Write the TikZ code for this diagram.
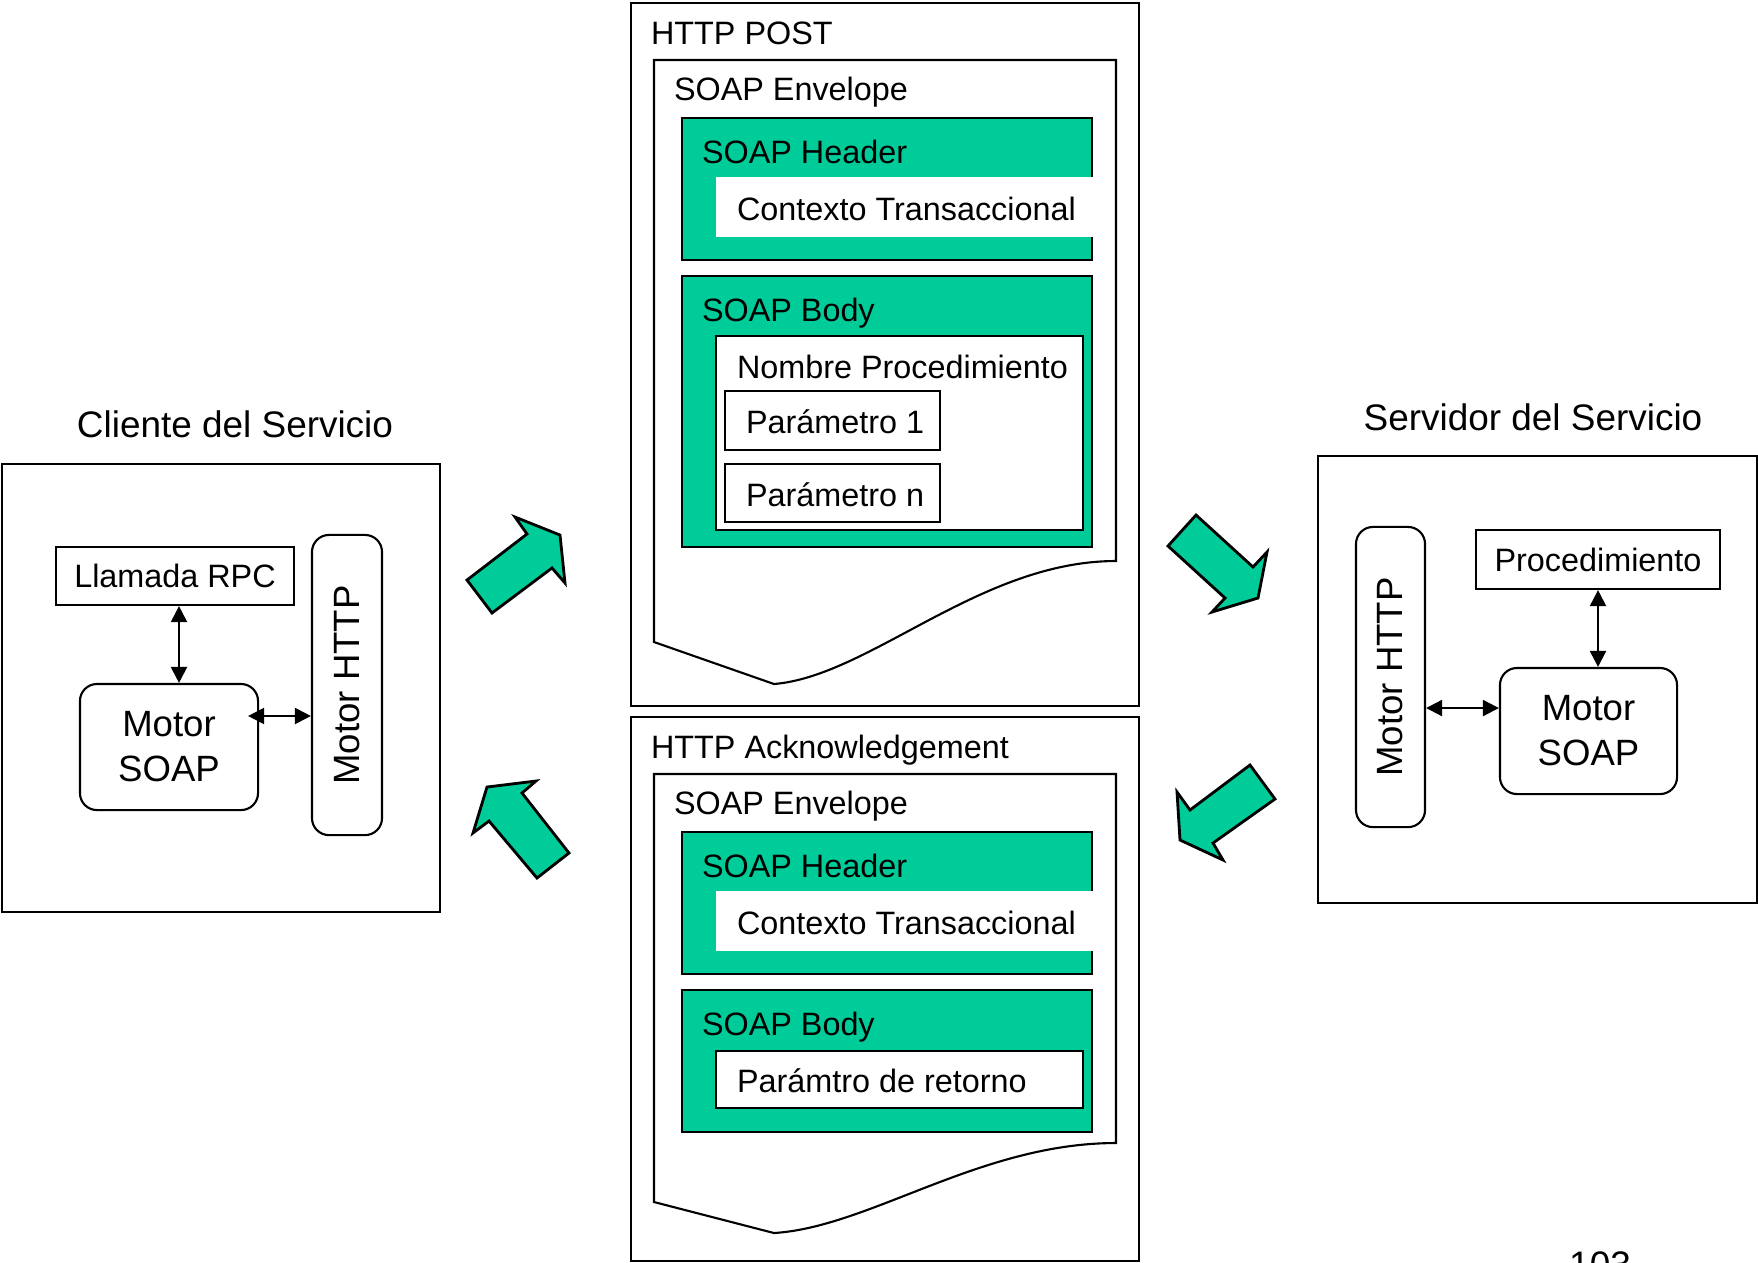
\documentclass[tikz,border=0pt]{standalone}
\usepackage{fontspec}
\setmainfont{Liberation Sans}
\usetikzlibrary{arrows.meta}

\definecolor{soapgreen}{RGB}{0,204,153}
\newcommand{\txtnormal}{\fontsize{9.2}{11}\selectfont}
\newcommand{\txttitulo}{\fontsize{10.5}{12.5}\selectfont}
\newcommand{\txtmotor}{\fontsize{10.4}{12.8}\selectfont}

\tikzset{
  lbl/.style={anchor=base west, inner sep=0pt, font=\txtnormal},
  titulo/.style={anchor=base, inner sep=0pt, font=\txttitulo},
  caja/.style={draw, inner sep=0pt, font=\txtnormal, text height=6.6pt, text depth=0pt},
  marco/.style={draw, inner sep=0pt},
  motor/.style={draw, rounded corners=0.17cm, inner sep=0pt, font=\txtmotor, align=center},
  flecha/.style={{Triangle[length=0.16cm,width=0.16cm]}-{Triangle[length=0.16cm,width=0.16cm]}},
  bloque/.style={draw, fill=soapgreen, line width=0.8pt, line join=miter}
}

\begin{document}
\begin{tikzpicture}[x=0.01cm, y=-0.01cm, line width=0.6pt]

\useasboundingbox (0,0) rectangle (1758,1262);

% cliente
\node[titulo] (cliTitulo) at (235,437) {Cliente del Servicio};
\node[marco, minimum width=4.38cm, minimum height=4.48cm] (cliente) at (221,688) {};
\node[caja, minimum width=2.38cm, minimum height=0.58cm] (llamada) at (175,576) {Llamada RPC};
\node[motor, minimum width=1.78cm, minimum height=1.26cm] (soapC) at (169,747) {Motor\\SOAP};
\node[motor, minimum width=0.70cm, minimum height=3.00cm] (httpC) at (347,685) {\rotatebox{90}{Motor HTTP}};

\draw[flecha] ([xshift=0.04cm]llamada.south) -- ([xshift=0.04cm]llamada.south |- soapC.north);
\draw[flecha] ([xshift=-0.11cm,yshift=0.31cm]soapC.east) -- ([yshift=0.31cm]soapC.east -| httpC.west);

% servidor
\node[titulo] (srvTitulo) at (1533,430) {Servidor del Servicio};
\node[marco, minimum width=4.39cm, minimum height=4.47cm] (servidor) at (1537.5,679.5) {};
\node[motor, minimum width=0.69cm, minimum height=3.00cm] (httpS) at (1390.5,677) {\rotatebox{90}{Motor HTTP}};
\node[caja, minimum width=2.44cm, minimum height=0.59cm] (proc) at (1598,559.5) {Procedimiento};
\node[motor, minimum width=1.77cm, minimum height=1.26cm] (soapS) at (1588.5,731) {Motor\\SOAP};

\draw[flecha] (proc.south) -- (proc.south |- soapS.north);
\draw[flecha] ([yshift=-0.31cm]httpS.east) -- ([yshift=-0.31cm]httpS.east -| soapS.west);

% HTTP POST
\node[marco, minimum width=5.08cm, minimum height=7.03cm] (post) at (885,354.5) {};
\node[lbl] (postLbl) at (650,44) {HTTP POST};
\draw (654,60) -- (1116,60) -- (1116,561) .. controls (980,561) and (870,676) .. (774,684) -- (654,642) -- cycle;
\node[lbl] (envLbl) at (673,100) {SOAP Envelope};
\draw[fill=soapgreen] (682,118) rectangle (1092,260);
\node[lbl] (headLbl) at (701,163) {SOAP Header};
\fill[white] (716,177) rectangle (1093,237);
\node[lbl] (ctxLbl) at (736,220) {Contexto Transaccional};
\draw[fill=soapgreen] (682,276) rectangle (1092,547);
\node[lbl] (bodyLbl) at (701,321) {SOAP Body};
\draw[fill=white] (716,336) rectangle (1083,530);
\node[lbl] (nomLbl) at (736,378) {Nombre Procedimiento};
\draw (725,391) rectangle (940,450);
\node[lbl] (par1Lbl) at (745,433) {Parámetro 1};
\draw (725,464) rectangle (940,522);
\node[lbl] (parnLbl) at (745,506) {Parámetro n};

% HTTP Acknowledgement
\node[marco, minimum width=5.08cm, minimum height=5.44cm] (ack) at (885,989) {};
\node[lbl] (ackLbl) at (650,758) {HTTP Acknowledgement};
\draw (654,774) -- (1116,774) -- (1116,1143) .. controls (980,1143) and (870,1227) .. (774,1233) -- (654,1202) -- cycle;
\node[lbl] (env2Lbl) at (673,814) {SOAP Envelope};
\draw[fill=soapgreen] (682,832) rectangle (1092,974);
\node[lbl] (head2Lbl) at (701,877) {SOAP Header};
\fill[white] (716,891) rectangle (1093,951);
\node[lbl] (ctx2Lbl) at (736,934) {Contexto Transaccional};
\draw[fill=soapgreen] (682,990) rectangle (1092,1132);
\node[lbl] (body2Lbl) at (701,1035) {SOAP Body};
\draw[fill=white] (716,1051) rectangle (1083,1108);
\node[lbl] (retLbl) at (736,1092) {Parámtro de retorno};

% flechas verdes
\draw[bloque] (467,580) -- (527,534) -- (515,517) -- (560,535) -- (565,583) -- (552,568) -- (492,613) -- cycle;
\draw[bloque] (1168,546) -- (1196,515) -- (1253,567) -- (1267,552) -- (1258,598) -- (1212,612) -- (1225,598) -- cycle;
\draw[bloque] (537,878) -- (569,853) -- (522,793) -- (536,781) -- (487,787) -- (473,833) -- (489,821) -- cycle;
\draw[bloque] (1250,765) -- (1275,799) -- (1213,843) -- (1223,860) -- (1180,840) -- (1177,792) -- (1190,810) -- cycle;

\node[titulo] (pagina) at (1600,1277) {103};

\end{tikzpicture}
\end{document}
